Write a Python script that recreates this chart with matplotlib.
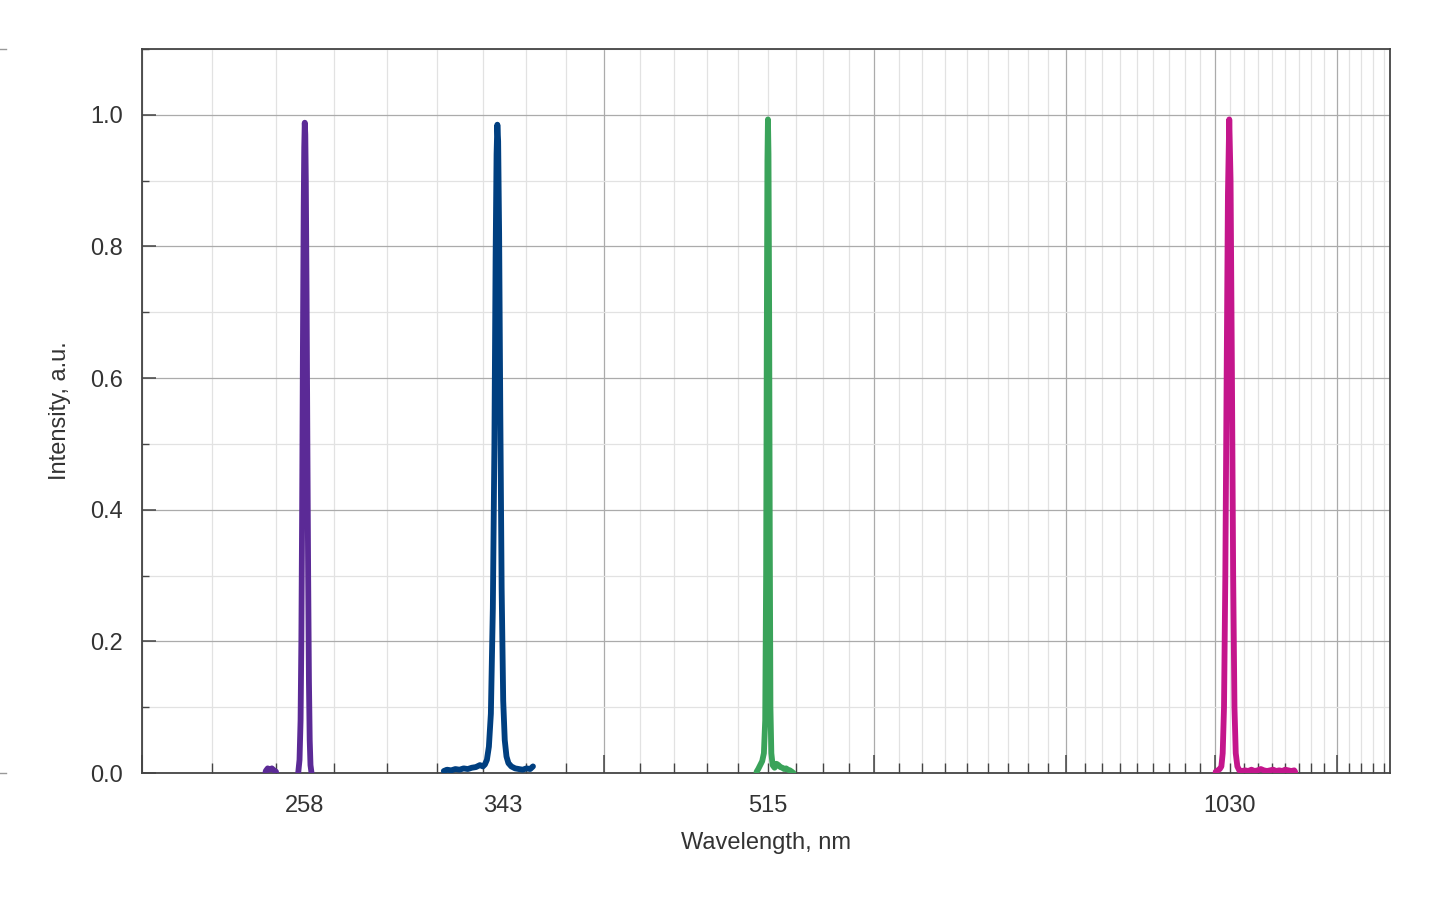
import matplotlib
matplotlib.use('Agg')
import matplotlib.pyplot as plt
from matplotlib.ticker import MultipleLocator, NullFormatter, FormatStrFormatter
from matplotlib.lines import Line2D

plt.rcParams['font.family'] = ['Liberation Sans', 'DejaVu Sans']

# ---- data ----
uv258_wl = [240.0, 240.8, 241.5, 242.3, 243.0, 243.8, 244.5, 245.2,
            252.3, 252.8, 253.3, 253.7, 254.0, 254.3, 254.6, 254.9, 255.1, 255.3,
            255.5, 255.7, 256.0, 256.3, 256.6, 256.9, 257.2, 257.5, 257.9, 258.4]
uv258_int = [-0.02, 0.003, 0.007, 0.005, 0.007, 0.004, 0.002, -0.02,
             -0.02, 0.0, 0.02, 0.08, 0.2, 0.4, 0.65, 0.86, 0.95, 0.988,
             0.97, 0.9, 0.72, 0.5, 0.3, 0.14, 0.05, 0.012, 0.0, -0.02]

uv343_wl = [314.5, 316.0, 318.0, 320.0, 322.0, 324.0, 326.0, 328.0, 330.0, 332.0,
            333.5, 334.5, 335.5, 336.5, 337.5, 338.5, 339.3, 339.9, 340.4, 340.8,
            341.2, 341.7, 342.3, 343.0, 343.8, 344.6, 345.5, 346.5, 348.0, 350.0,
            352.0, 354.0, 356.0, 358.0, 359.5]
uv343_int = [0.003, 0.005, 0.004, 0.006, 0.005, 0.007, 0.006, 0.008, 0.009, 0.012,
             0.010, 0.013, 0.02, 0.04, 0.09, 0.25, 0.5, 0.78, 0.94, 0.985,
             0.96, 0.82, 0.55, 0.28, 0.11, 0.05, 0.025, 0.015, 0.01, 0.007,
             0.006, 0.005, 0.007, 0.006, 0.010]

green515_wl = [502.0, 502.8, 504.0, 505.5, 507.0, 508.3, 509.3, 510.0, 510.5, 511.0,
               511.4, 511.8, 512.3, 512.8, 513.3, 514.0, 515.0, 516.5, 518.0, 519.5,
               521.0, 522.5, 524.0, 525.5, 527.0, 528.5, 530.0, 531.3, 532.0]
green515_int = [-0.02, 0.002, 0.006, 0.012, 0.018, 0.03, 0.08, 0.3, 0.65, 0.93,
                0.993, 0.94, 0.7, 0.35, 0.1, 0.03, 0.012, 0.008, 0.014, 0.012,
                0.009, 0.008, 0.006, 0.007, 0.005, 0.004, 0.002, 0.0, -0.02]

ir1030_wl = [1000.5, 1001.0, 1004.0, 1007.0, 1009.5, 1011.5, 1013.5, 1015.5, 1017.5,
             1019.5, 1021.5, 1023.5, 1025.5, 1027.5, 1029.5, 1031.5, 1034.0, 1037.0,
             1041.0, 1046.0, 1051.0, 1056.0, 1061.0, 1066.0, 1071.0, 1076.0, 1081.0,
             1086.0, 1091.0, 1096.0, 1101.0, 1106.0, 1111.0, 1116.0, 1121.0, 1126.0,
             1127.5, 1128.5]
ir1030_int = [-0.02, 0.002, 0.004, 0.006, 0.01, 0.03, 0.1, 0.3, 0.6,
              0.88, 0.993, 0.9, 0.62, 0.3, 0.1, 0.03, 0.01, 0.004,
              0.003, 0.004, 0.003, 0.005, 0.003, 0.004, 0.006, 0.004, 0.003,
              0.004, 0.005, 0.003, 0.004, 0.003, 0.005, 0.004, 0.003, 0.004,
              0.002, -0.02]

series_colors = ['#5b2a96', '#003f80', '#3aa35a', '#c4168c']

xtick_positions = [255.3, 343.8, 511.5, 1022.0]
xtick_labels = ['258', '343', '515', '1030']

# ---- figure ----
fig = plt.figure(figsize=(14.4, 9), dpi=100)
ax = fig.add_axes([142 / 1440, 127 / 900, 1248 / 1440, 724 / 900])
ax.set_xscale('log')
ax.set_xlim(200, 1300)
ax.set_ylim(0, 1.1)

for wl, inten, col in zip([uv258_wl, uv343_wl, green515_wl, ir1030_wl],
                          [uv258_int, uv343_int, green515_int, ir1030_int],
                          series_colors):
    ax.plot(wl, inten, color=col, lw=4.2, solid_capstyle='round',
            solid_joinstyle='round', zorder=3)

ax.xaxis.set_major_locator(MultipleLocator(200))
ax.xaxis.set_minor_locator(MultipleLocator(200 / 9))
ax.xaxis.set_major_formatter(NullFormatter())
ax.xaxis.set_minor_formatter(NullFormatter())
ax.yaxis.set_major_locator(MultipleLocator(0.2))
ax.yaxis.set_minor_locator(MultipleLocator(0.1))
ax.yaxis.set_major_formatter(FormatStrFormatter('%.1f'))

tick_col = '#444444'
ax.tick_params(axis='x', which='major', direction='in', length=13, width=1.1, color=tick_col)
ax.tick_params(axis='x', which='minor', direction='in', length=7, width=1.0, color=tick_col)
ax.tick_params(axis='y', which='major', direction='in', length=10, width=1.1, color=tick_col,
               pad=14, labelsize=17, labelcolor='#333333')
ax.tick_params(axis='y', which='minor', direction='in', length=5, width=1.0, color=tick_col)

ax.set_axisbelow(True)
ax.grid(which='major', color='#ababab', lw=0.9)
ax.grid(which='minor', color='#e2e2e2', lw=0.9)

for s in ax.spines.values():
    s.set_color('#444444')
    s.set_linewidth(1.3)

# the bottom y label sits slightly above its tick in the reference
fig.canvas.draw()
ylabels = ax.get_yticklabels()
if ylabels:
    ylabels[0].set_va('bottom')
    ylabels[0].set_y(0)
    import matplotlib.transforms as mtransforms
    ylabels[0].set_transform(ylabels[0].get_transform() +
                             mtransforms.ScaledTranslation(0, -9 / 72, fig.dpi_scale_trans))

for pos, lab in zip(xtick_positions, xtick_labels):
    ax.annotate(lab, xy=(pos, 0), xycoords=('data', 'axes fraction'),
                xytext=(0, -16), textcoords='offset points', ha='center', va='top',
                fontsize=17, color='#333333')

fig.text(766 / 1440, 1 - 843 / 900, 'Wavelength, nm', ha='center', va='center',
         fontsize=17, color='#333333')
fig.text(60 / 1440, 1 - 411 / 900, 'Intensity, a.u.', ha='center', va='center',
         rotation=90, fontsize=17, color='#333333')

# small marks at the far left edge
for yy in (49, 773):
    fig.add_artist(Line2D([0, 6 / 1440], [1 - yy / 900, 1 - yy / 900],
                          color='#999999', lw=1.0))

fig.savefig('out.png', dpi=100)
